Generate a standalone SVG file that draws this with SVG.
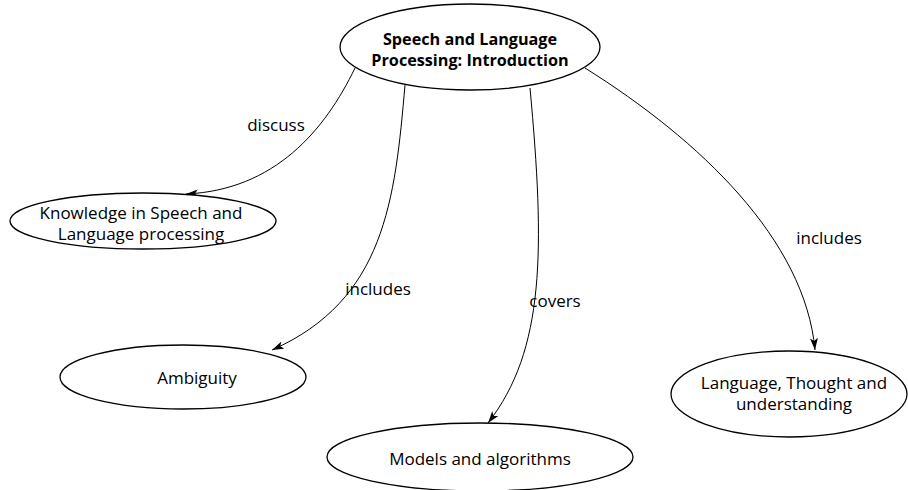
<svg xmlns="http://www.w3.org/2000/svg" width="908" height="490" viewBox="0 0 908 490">
  <style>
    .node ellipse { fill: #ffffff; stroke: #000000; stroke-width: 1.3; }
    .node text { font-family: "Open Sans", "Liberation Sans", sans-serif; font-size: 17px; fill: #000000; text-anchor: middle; }
    .node text.title { font-weight: bold; font-size: 16.2px; }
    .edge { fill: none; stroke: #000000; stroke-width: 1; marker-end: url(#arrow); }
    .label { font-family: "Open Sans", "Liberation Sans", sans-serif; font-size: 17px; fill: #000000; text-anchor: middle; }
  </style>
  <defs>
    <marker id="arrow" viewBox="0 0 12 8" refX="12" refY="4" markerWidth="12" markerHeight="8" markerUnits="userSpaceOnUse" orient="auto">
      <path d="M0,0 L12,4 L0,8 L3,4 Z" fill="#000000"/>
    </marker>
  </defs>

  <rect width="908" height="490" fill="#ffffff"/>

  <!-- connectors -->
  <g id="connectors">
    <path class="edge" d="M355,68 C325,130 275,190 186,194"/>
    <path class="edge" d="M405,85 C395,200 385,300 272,350"/>
    <path class="edge" d="M530,88 C545,250 545,350 488,423"/>
    <path class="edge" d="M585,68 C700,140 805,240 815,350"/>
    <text class="label" x="276" y="131">discuss</text>
    <text class="label" x="378" y="295">includes</text>
    <text class="label" x="555" y="307">covers</text>
    <text class="label" x="829" y="244">includes</text>
  </g>

  <g id="node-intro" class="node">
    <ellipse cx="470" cy="47" rx="130" ry="43"/>
    <text class="title" x="470" y="45">Speech and Language</text>
    <text class="title" x="470" y="66">Processing: Introduction</text>
  </g>

  <g id="node-knowledge" class="node">
    <ellipse cx="143" cy="221" rx="133" ry="28"/>
    <text x="141" y="219">Knowledge in Speech and</text>
    <text x="141" y="240">Language processing</text>
  </g>

  <g id="node-ambiguity" class="node">
    <ellipse cx="183" cy="377" rx="123" ry="32"/>
    <text x="197" y="384">Ambiguity</text>
  </g>

  <g id="node-models" class="node">
    <ellipse cx="480" cy="457" rx="153" ry="34"/>
    <text x="480" y="465">Models and algorithms</text>
  </g>

  <g id="node-language" class="node">
    <ellipse cx="789" cy="394" rx="118" ry="43"/>
    <text x="794" y="389">Language, Thought and</text>
    <text x="794" y="410">understanding</text>
  </g>
</svg>
